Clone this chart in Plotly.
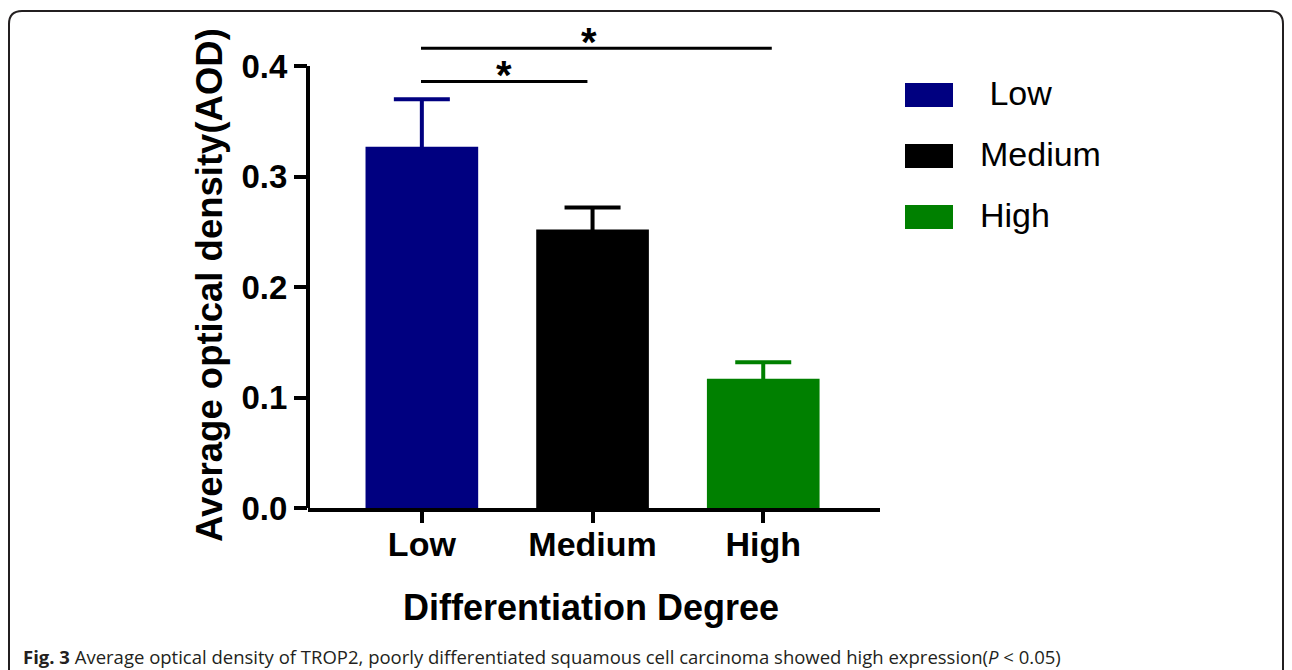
import plotly.graph_objects as go

# ---- data ----
categories = ["Low", "Medium", "High"]
means = [0.327, 0.252, 0.117]
sd_upper = [0.043, 0.020, 0.015]
colors = ["#000080", "#000000", "#008000"]
legend_labels = ["\u00a0Low", "Medium", "High"]
y_tickvals = [0.0, 0.1, 0.2, 0.3, 0.4]
y_ticktext = ["0.0", "0.1", "0.2", "0.3", "0.4"]

W, H = 1292, 670
L, R, B, T = 308, 880, 508, 20          # plot area in pixels
YTOP = (B - T) / 1105.0                 # data value at top of plot area


def px(xp):
    return (xp - L) / (R - L)


def py(yp):
    return (B - yp) / (B - T)


FONT = "Liberation Sans, Arial, sans-serif"

fig = go.Figure()
for cat, m, e, c in zip(categories, means, sd_upper, colors):
    fig.add_trace(go.Bar(
        x=[cat], y=[m], width=0.66, marker=dict(color=c, line=dict(width=0)),
        error_y=dict(type="data", array=[e], symmetric=True,
                     color=c, thickness=4, width=28),
        showlegend=False, hoverinfo="skip",
    ))

shapes = []
annotations = []

# y axis line (only up to 0.4)
shapes.append(dict(type="line", xref="paper", yref="y", x0=0, x1=0,
                   y0=0, y1=0.4, line=dict(color="black", width=4)))

# significance bars
shapes.append(dict(type="line", xref="x", yref="y", x0=-0.005, x1=2.05,
                   y0=0.416, y1=0.416, line=dict(color="black", width=3)))
shapes.append(dict(type="line", xref="x", yref="y", x0=-0.005, x1=0.97,
                   y0=0.386, y1=0.386, line=dict(color="black", width=3)))
annotations.append(dict(x=0.98, y=0.416, xref="x", yref="y", text="<b>*</b>",
                        showarrow=False, yanchor="bottom", yshift=-18,
                        font=dict(family=FONT, size=40, color="black")))
annotations.append(dict(x=0.48, y=0.386, xref="x", yref="y", text="<b>*</b>",
                        showarrow=False, yanchor="bottom", yshift=-18,
                        font=dict(family=FONT, size=40, color="black")))

# custom legend
leg_rows = [(83, 107), (144, 168), (205, 229)]
for (y0, y1), lab, c in zip(leg_rows, legend_labels, colors):
    shapes.append(dict(type="rect", xref="paper", yref="paper",
                       x0=px(905), x1=px(953), y0=py(y1), y1=py(y0),
                       fillcolor=c, line=dict(width=0)))
    annotations.append(dict(x=px(978), y=py((y0 + y1) / 2 - 2), xref="paper", yref="paper",
                            text=lab, showarrow=False, xanchor="left", yanchor="middle",
                            font=dict(family=FONT, size=34, color="black")))

# axis titles
annotations.append(dict(x=px(209), y=py(285), xref="paper", yref="paper",
                        text="<b>Average optical density(AOD)</b>", textangle=-90,
                        showarrow=False, xanchor="center", yanchor="middle",
                        font=dict(family=FONT, size=36.5, color="black")))
annotations.append(dict(x=px(591), y=py(607), xref="paper", yref="paper",
                        text="<b>Differentiation Degree</b>",
                        showarrow=False, xanchor="center", yanchor="middle",
                        font=dict(family=FONT, size=36, color="black")))

# caption
annotations.append(dict(x=px(21), y=py(656), xref="paper", yref="paper",
                        text="<b>Fig. 3</b> Average optical density of TROP2, poorly differentiated "
                             "squamous cell carcinoma showed high expression(<i>P</i> &lt; 0.05)",
                        showarrow=False, xanchor="left", yanchor="middle",
                        font=dict(family="Open Sans, sans-serif", size=18.5, color="#231f20")))

# rounded frame
fx0, fx1, fy0, fy1, r = 9, 1283, 11, 700, 13
path = (f"M {px(fx0)},{py(fy1)} L {px(fx0)},{py(fy0 + r)} "
        f"Q {px(fx0)},{py(fy0)} {px(fx0 + r)},{py(fy0)} "
        f"L {px(fx1 - r)},{py(fy0)} "
        f"Q {px(fx1)},{py(fy0)} {px(fx1)},{py(fy0 + r)} "
        f"L {px(fx1)},{py(fy1)}")
shapes.append(dict(type="path", xref="paper", yref="paper", path=path,
                   line=dict(color="#231f20", width=2)))

fig.update_layout(
    width=W, height=H,
    margin=dict(l=L, r=W - R, t=T, b=H - B, pad=0),
    paper_bgcolor="white", plot_bgcolor="white",
    barmode="overlay",
    shapes=shapes, annotations=annotations,
    showlegend=False,
    xaxis=dict(type="category", categoryorder="array", categoryarray=categories,
               range=[-0.667, 2.684], showline=True, linecolor="black", linewidth=4,
               ticks="outside", ticklen=11, tickwidth=4, tickcolor="black",
               ticklabelstandoff=-8,
               showgrid=False, zeroline=False,
               tickfont=dict(family=FONT, size=34, color="black", weight="bold")),
    yaxis=dict(range=[0, YTOP], tickvals=y_tickvals, ticktext=y_ticktext,
               showline=False, ticks="outside", ticklen=13, tickwidth=4, tickcolor="black",
               showgrid=False, zeroline=False,
               tickfont=dict(family=FONT, size=33, color="black", weight="bold")),
)

fig.write_html("out.html", config={"displayModeBar": False},
               post_script="document.body.style.margin='0';")
